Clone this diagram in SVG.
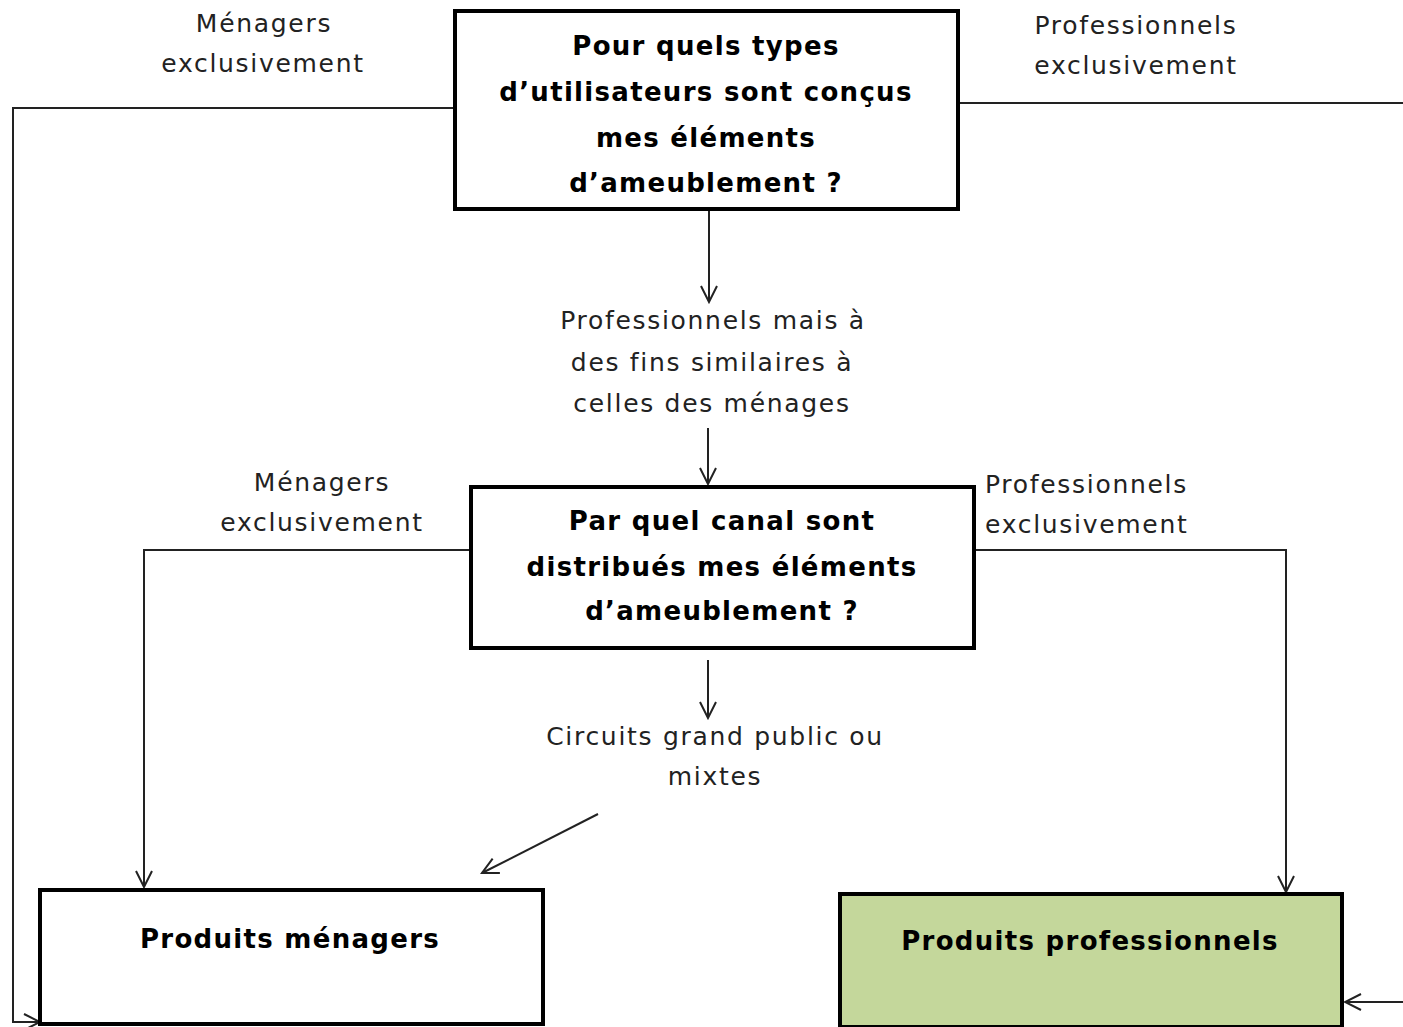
<svg xmlns="http://www.w3.org/2000/svg" width="1403" height="1027" viewBox="0 0 1403 1027">
<defs>
<marker id="ah" viewBox="0 0 20 20" refX="18" refY="10" markerWidth="20" markerHeight="20" markerUnits="userSpaceOnUse" orient="auto">
<path d="M2,2 L18,10 L2,18" fill="none" stroke="#222" stroke-width="2"/>
</marker>
</defs>
<style>
.box{fill:#fff;stroke:#000;stroke-width:4}
.green{fill:#c4d79b}
.b{font-family:"DejaVu Sans",Verdana,sans-serif;font-weight:bold;font-size:26px;letter-spacing:1.3px;fill:#000;text-anchor:middle}
.t{font-family:"DejaVu Sans",Verdana,sans-serif;font-size:25px;letter-spacing:1.7px;fill:#222;text-anchor:middle}
.l{text-anchor:start}
.c{fill:none;stroke:#222;stroke-width:2}
</style>
<rect width="1403" height="1027" fill="#fff"/>
<g id="connectors">
<path class="c" d="M709,209 L709,302" marker-end="url(#ah)"/>
<path class="c" d="M708,428 L708,484" marker-end="url(#ah)"/>
<path class="c" d="M708,660 L708,718" marker-end="url(#ah)"/>
<path class="c" d="M598,814 L482,873" marker-end="url(#ah)"/>
<path class="c" d="M483,550 L144,550 L144,887" marker-end="url(#ah)"/>
<path class="c" d="M974,550 L1286,550 L1286,892" marker-end="url(#ah)"/>
<path class="c" d="M455,108 L13,108 L13,1022 L40,1022" marker-end="url(#ah)"/>
<path class="c" d="M958,103 L1403,103"/>
<path class="c" d="M1403,1002 L1345,1002" marker-end="url(#ah)"/>
</g>
<g id="labels">
<text class="t" x="264" y="32">Ménagers</text>
<text class="t" x="263" y="72">exclusivement</text>
<text class="t" x="1136" y="34">Professionnels</text>
<text class="t" x="1136" y="74">exclusivement</text>
<text class="t" x="713" y="329">Professionnels mais à</text>
<text class="t" x="712" y="371">des fins similaires à</text>
<text class="t" x="712" y="412">celles des ménages</text>
<text class="t" x="322" y="491">Ménagers</text>
<text class="t" x="322" y="531">exclusivement</text>
<text class="t l" x="985" y="493">Professionnels</text>
<text class="t l" x="985" y="533">exclusivement</text>
<text class="t" x="715" y="745">Circuits grand public ou</text>
<text class="t" x="715" y="785">mixtes</text>
</g>
<g id="q1">
<rect class="box" x="455" y="11" width="503" height="198"/>
<text class="b" x="706" y="55">Pour quels types</text>
<text class="b" x="706" y="101">d’utilisateurs sont conçus</text>
<text class="b" x="706" y="147">mes éléments</text>
<text class="b" x="706" y="192">d’ameublement ?</text>
</g>
<g id="q2">
<rect class="box" x="471" y="487" width="503" height="161"/>
<text class="b" x="722" y="530">Par quel canal sont</text>
<text class="b" x="722" y="576">distribués mes éléments</text>
<text class="b" x="722" y="620">d’ameublement ?</text>
</g>
<g id="menagers">
<rect class="box" x="40" y="890" width="503" height="134"/>
<text class="b" x="290" y="948">Produits ménagers</text>
</g>
<g id="professionnels">
<rect class="box green" x="840" y="894" width="502" height="133"/>
<text class="b" x="1090" y="950">Produits professionnels</text>
</g>
</svg>
